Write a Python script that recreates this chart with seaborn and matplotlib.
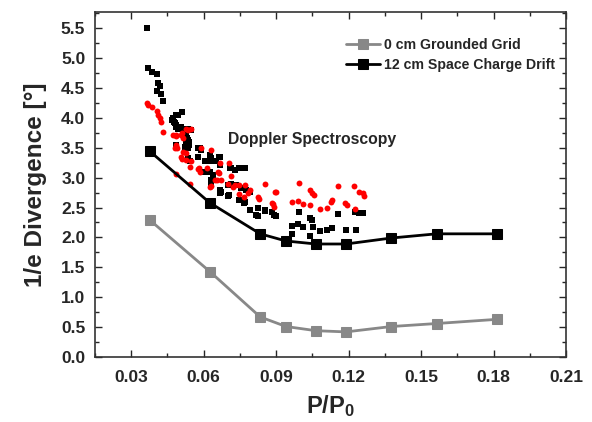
import numpy as np
import pandas as pd
import matplotlib
matplotlib.use("Agg")
import matplotlib.pyplot as plt
import seaborn as sns
from matplotlib.ticker import MultipleLocator

# ---------------- data ----------------
p_ratio = [0.0377, 0.0625, 0.0834, 0.0941, 0.1065, 0.1189, 0.1377, 0.1564, 0.1814]
div_grounded = [2.29, 1.43, 0.67, 0.51, 0.44, 0.42, 0.51, 0.56, 0.63]
div_drift = [3.44, 2.58, 2.06, 1.94, 1.89, 1.89, 1.99, 2.06, 2.06]

doppler_black_x = [
    0.0366, 0.0370, 0.0386, 0.0405, 0.0411, 0.0418, 0.0405, 0.0422, 0.0432, 0.0512,
    0.0494, 0.0469, 0.0477, 0.0487, 0.0494, 0.0514, 0.0535, 0.0549, 0.0521, 0.0531,
    0.0539, 0.0583, 0.0473, 0.0487, 0.0480, 0.0487, 0.0508, 0.0528, 0.0535, 0.0528,
    0.0535, 0.0487, 0.0521, 0.0535, 0.0535, 0.0542, 0.0576, 0.0590, 0.0625, 0.0576,
    0.0604, 0.0625, 0.0652, 0.0666, 0.0625, 0.0638, 0.0666, 0.0707, 0.0728, 0.0769,
    0.0632, 0.0666, 0.0700, 0.0755, 0.0776, 0.0514, 0.0539, 0.0542, 0.0632, 0.0663,
    0.0604, 0.0632, 0.0673, 0.0704, 0.0714, 0.0748, 0.0773, 0.0714, 0.0735, 0.0790,
    0.0748, 0.0769, 0.0790, 0.0824, 0.0852, 0.0824, 0.0883, 0.0893, 0.0900, 0.0996,
    0.0966, 0.0989, 0.1010, 0.1040, 0.1048, 0.1054, 0.1081, 0.1109, 0.1131, 0.1040,
    0.0966, 0.1157, 0.1189, 0.1230, 0.1227, 0.1244, 0.1261, 0.0817, 0.0852, 0.0766,
    0.0700, 0.0666,
]
doppler_black_y = [
    5.50, 4.84, 4.76, 4.74, 4.59, 4.54, 4.45, 4.40, 4.28, 4.09,
    4.04, 3.97, 3.93, 3.88, 3.82, 3.82, 3.82, 3.80, 3.71, 3.66,
    3.60, 3.49, 3.99, 4.05, 3.91, 3.85, 3.85, 3.71, 3.63, 3.58,
    3.55, 3.55, 3.52, 3.49, 3.32, 3.27, 3.49, 3.47, 3.38, 3.35,
    3.27, 3.27, 3.27, 3.35, 3.10, 3.04, 3.21, 3.16, 3.13, 3.16,
    2.96, 2.79, 2.88, 2.82, 2.79, 3.77, 3.55, 3.28, 3.32, 3.35,
    3.10, 2.90, 2.76, 2.71, 2.90, 2.63, 2.60, 3.16, 2.88, 2.46,
    3.16, 2.82, 2.76, 2.49, 2.46, 2.36, 2.43, 2.37, 2.35, 2.43,
    2.19, 2.22, 2.17, 2.32, 2.29, 2.17, 2.11, 2.12, 2.15, 2.02,
    2.05, 2.39, 2.12, 2.12, 2.43, 2.40, 2.40, 2.37, 2.45, 2.57,
    2.70, 2.75,
]

doppler_red_x = [
    0.0366, 0.0370, 0.0386, 0.0405, 0.0411, 0.0418, 0.0425, 0.0432, 0.0473, 0.0487,
    0.0512, 0.0535, 0.0487, 0.0590, 0.0632, 0.0528, 0.0549, 0.0514, 0.0480, 0.0514,
    0.0528, 0.0512, 0.0546, 0.0580, 0.0583, 0.0613, 0.0487, 0.0542, 0.0704, 0.0659,
    0.0673, 0.0645, 0.0700, 0.0632, 0.0728, 0.0748, 0.0769, 0.0790, 0.0484, 0.0508,
    0.0484, 0.0490, 0.0504, 0.0528, 0.0542, 0.0576, 0.0666, 0.0663, 0.0655, 0.0625,
    0.0714, 0.0721, 0.0824, 0.0852, 0.0897, 0.0886, 0.0893, 0.0831, 0.0900, 0.0883,
    0.0966, 0.0989, 0.1013, 0.0996, 0.1040, 0.1048, 0.1058, 0.1041, 0.1081, 0.1109,
    0.1127, 0.1133, 0.1157, 0.1186, 0.1195, 0.1223, 0.1244, 0.1260, 0.1264, 0.1227,
    0.0783, 0.0746, 0.0765,
]
doppler_red_y = [
    4.25, 4.21, 4.18, 4.12, 4.05, 3.99, 3.93, 3.77, 3.71, 3.70,
    3.75, 3.80, 3.52, 3.49, 3.46, 3.81, 3.81, 3.66, 3.49, 3.43,
    3.41, 3.31, 3.27, 3.16, 3.10, 3.16, 3.06, 2.90, 3.24, 3.10,
    2.96, 2.96, 2.90, 2.86, 2.88, 2.88, 2.88, 2.80, 3.71, 3.71,
    3.55, 3.49, 3.35, 3.29, 3.18, 3.15, 3.24, 3.07, 2.96, 2.85,
    3.02, 2.85, 2.68, 2.89, 2.76, 2.56, 2.51, 2.65, 2.76, 2.57,
    2.60, 2.61, 2.56, 2.91, 2.79, 2.74, 2.71, 2.54, 2.47, 2.50,
    2.60, 2.63, 2.86, 2.57, 2.54, 2.86, 2.76, 2.74, 2.70, 2.47,
    2.75, 2.72, 2.68,
]

x_ticks = [0.03, 0.06, 0.09, 0.12, 0.15, 0.18, 0.21]
y_ticks = [0.0, 0.5, 1.0, 1.5, 2.0, 2.5, 3.0, 3.5, 4.0, 4.5, 5.0, 5.5]

# ---------------- style ----------------
sns.set_style("ticks")
plt.rcParams["font.family"] = ["Liberation Sans", "DejaVu Sans"]
plt.rcParams["font.weight"] = "bold"
plt.rcParams["mathtext.fontset"] = "custom"
plt.rcParams["mathtext.rm"] = "Liberation Sans:bold"
plt.rcParams["mathtext.bf"] = "Liberation Sans:bold"
plt.rcParams["mathtext.it"] = "Liberation Sans:bold"

fig = plt.figure(figsize=(5.92, 4.22), dpi=100)
ax = fig.add_axes([0.1605, 0.154, 0.7955, 0.8176])

sns.scatterplot(x=doppler_black_x, y=doppler_black_y, ax=ax, marker="s",
                color="black", s=13, linewidth=0, legend=False, zorder=3)
sns.scatterplot(x=doppler_red_x, y=doppler_red_y, ax=ax, marker="o",
                color="red", s=18, linewidth=0, legend=False, zorder=3)

sns.lineplot(x=p_ratio, y=div_grounded, ax=ax, color="#888888", linewidth=2.0,
             marker="s", markersize=6.5, markeredgecolor="#888888",
             sort=False, label="0 cm Grounded Grid", zorder=4)
sns.lineplot(x=p_ratio, y=div_drift, ax=ax, color="black", linewidth=2.0,
             marker="s", markersize=6.5, markeredgecolor="black",
             sort=False, label="12 cm Space Charge Drift", zorder=4)

ax.set_xlim(0.015, 0.21)
ax.set_ylim(0, 5.77)
ax.set_xticks(x_ticks)
ax.set_xticklabels([f"{v:.2f}" for v in x_ticks])
ax.set_yticks(y_ticks)
ax.set_yticklabels([f"{v:.1f}" for v in y_ticks])
ax.xaxis.set_minor_locator(MultipleLocator(0.015))
ax.yaxis.set_minor_locator(MultipleLocator(0.25))
ax.tick_params(which="both", direction="in", top=True, right=True, width=1.0)
ax.tick_params(which="major", length=5, labelsize=12.5)
ax.tick_params(axis="x", which="major", pad=9)
ax.tick_params(axis="y", which="major", pad=7)
ax.tick_params(which="minor", length=3)
for lab in ax.get_xticklabels() + ax.get_yticklabels():
    lab.set_fontweight("bold")
for sp in ax.spines.values():
    sp.set_linewidth(1.2)
    sp.set_color("#333333")

ax.set_xlabel(r"$\mathbf{P/P_0}$", fontsize=17, labelpad=6)
ax.set_ylabel("1/e Divergence [°]", fontsize=17.5, fontweight="bold", labelpad=10)

ax.text(0.0699, 3.63, "Doppler Spectroscopy", fontsize=11.3, fontweight="bold",
        ha="left", va="center")

leg = ax.legend(loc="upper right", bbox_to_anchor=(0.995, 0.95), frameon=False,
                fontsize=10.2, handlelength=2.4, handletextpad=0.3,
                labelspacing=0.45, borderaxespad=0.2)
for t in leg.get_texts():
    t.set_fontweight("bold")

fig.savefig("out.png", dpi=100)
